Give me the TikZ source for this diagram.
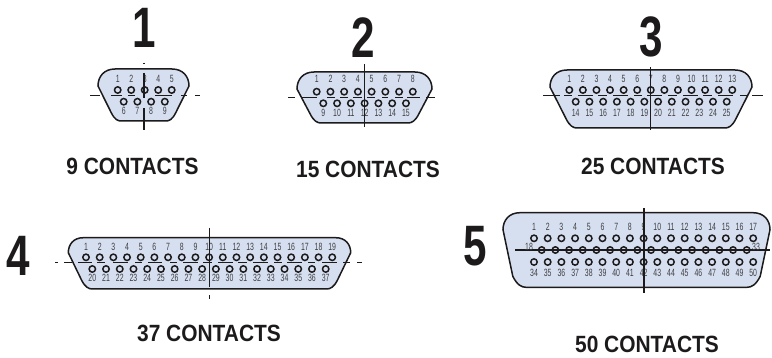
\documentclass[tikz,border=0pt]{standalone}
\usepackage{graphicx}
\usepackage{fontspec}
\setmainfont{Liberation Sans}
\definecolor{shellfill}{HTML}{D6DFF0}
\definecolor{ink}{HTML}{1C1A1B}
\definecolor{numgray}{HTML}{3E3E40}
\tikzset{
  shellline/.style={draw=ink,line width=1.5pt,fill=shellfill},
  pinring/.style={draw=ink,line width=1.5pt},
  markline/.style={draw=ink,line width=1.3pt},
  pinnum/.style={text=numgray,inner sep=0pt,font=\fontsize{10.5}{11}\selectfont},
  bignum/.style={text=ink,inner sep=0pt,font=\fontsize{57}{57}\bfseries\selectfont},
  caption/.style={text=ink,inner sep=0pt,font=\fontsize{23.5}{24}\bfseries\selectfont},
}
\newcommand{\nar}[1]{\scalebox{0.66}[1]{#1}}
\newcommand{\wid}[1]{\scalebox{0.74}[1]{#1}}
\newcommand{\capt}[1]{\scalebox{0.89}[1]{#1}}
% L R T B r dx r2
\newcommand{\shellpath}[7]{%
  \path[shellline] ({#1+#5},#3) -- ({#2-#5},#3)
    .. controls ({#2-0.35*#5},#3) and (#2,{#3+0.45*#5}) .. (#2,{#3+#5})
    -- ({#2-#6+0.2*#7},{#4-#7})
    .. controls ({#2-#6-0.2*#7},{#4-0.2*#7}) and ({#2-#6-0.6*#7},#4) .. ({#2-#6-#7},#4)
    -- ({#1+#6+#7},#4)
    .. controls ({#1+#6+0.6*#7},#4) and ({#1+#6+0.2*#7},{#4-0.2*#7}) .. ({#1+#6-0.2*#7},{#4-#7})
    -- (#1,{#3+#5})
    .. controls (#1,{#3+0.45*#5}) and ({#1+0.35*#5},#3) .. ({#1+#5},#3) -- cycle;}
% first-x step y first-number count label-y
\newcommand{\pinrow}[6]{%
  \foreach \i in {1,...,#5} {
    \pgfmathsetmacro{\px}{#1+(\i-1)*#2}
    \pgfmathtruncatemacro{\pn}{#4+\i-1}
    \draw[pinring] (\px,#3) circle (3.2);
    \node[pinnum] at (\px,#6) {\nar{\pn}};
  }}
\newcommand{\ringrow}[4]{%
  \foreach \i in {1,...,#4} {
    \pgfmathsetmacro{\px}{#1+(\i-1)*#2}
    \draw[pinring] (\px,#3) circle (3.2);
  }}
\begin{document}
\begin{tikzpicture}[x=1pt,y=-1pt]
\useasboundingbox (0,0) rectangle (772,358);
% ---------- 1
\shellpath{98}{189}{69}{121}{17}{15}{8}
\foreach \a/\b in {90/100,111/122,128/135,155/172,181/187,195/200}
  \draw[markline] (\a,95.7) -- (\b,95.7);
\pinrow{117.7}{13.5}{90}{1}{5}{79}
\pinrow{123.7}{13.7}{101.7}{6}{4}{110.7}
\draw[markline] (144,63) -- (144,64.5);
\draw[markline] (144,73) -- (144,98);
\draw[markline] (144,108) -- (144,130);
% ---------- 2
\shellpath{297}{432}{72}{123}{17}{15}{9}
\foreach \a/\b in {288/295,302/317,327/335,340/348,353/362,367/375,382/388,395/403,407/420,426/435}
  \draw[markline] (\a,97.7) -- (\b,97.7);
\pinrow{316.7}{13.73}{91.7}{1}{8}{79.3}
\pinrow{323.3}{13.78}{103.3}{9}{7}{113.3}
\draw[markline] (364.7,64) -- (364.7,127);
% ---------- 3
\shellpath{550}{752}{70}{128}{17}{18}{9}
\foreach \a/\b in {543/560,564/572,578/593,598/607,613/628,634/642,647/662,668/677,683/698,703/712,718/733,740/747,752/763}
  \draw[markline] (\a,95.7) -- (\b,95.7);
\pinrow{569.3}{13.58}{90}{1}{13}{79}
\pinrow{575.7}{13.73}{101.7}{14}{12}{113.3}
\draw[markline] (650.7,67) -- (650.7,130);
% ---------- 4
\shellpath{68.3}{350.7}{237.7}{289}{15}{15}{9}
\foreach \a/\b in {55/58,64/72,78/92,97/105,113/128,135/142,148/162,170/177,183/198,203/212,218/233,238/247,253/268,274/282,287/302,308/315,322/337,343/350,357/362}
  \draw[markline] (\a,262.7) -- (\b,262.7);
\pinrow{86}{13.68}{257.3}{1}{19}{246.7}
\pinrow{92.3}{13.73}{269}{20}{18}{278.3}
\draw[markline] (209.3,228) -- (209.3,287);
\draw[markline] (209.3,295.5) -- (209.3,299);
% ---------- 5
\shellpath{503}{770}{212.7}{287.3}{17}{12}{11}
\draw[markline] (515,250) -- (770,250);
\pinrow{534}{13.7}{238.3}{1}{17}{227}
\ringrow{541.7}{13.67}{250}{16}
\pinrow{534}{13.7}{262}{34}{17}{272.7}
\node[pinnum] at (529,246.7) {\nar{18}};
\node[pinnum] at (756,246.7) {\nar{33}};
\draw[markline] (644,208) -- (644,293);
% ---------- big numbers
\node[bignum] (n1) at (144,28) {\wid{1}};
\node[bignum] (n2) at (363,38) {\wid{2}};
\node[bignum] (n3) at (651,37) {\wid{3}};
\node[bignum] (n4) at (18,256) {\wid{4}};
\node[bignum] (n5) at (475,246) {\wid{5}};
% ---------- captions
\node[caption] (c1) at (132.5,166.5) {\capt{9 CONTACTS}};
\node[caption] (c2) at (368,169) {\capt{15 CONTACTS}};
\node[caption] (c3) at (653,166) {\capt{25 CONTACTS}};
\node[caption] (c4) at (209,333) {\capt{37 CONTACTS}};
\node[caption] (c5) at (647,344) {\capt{50 CONTACTS}};
\end{tikzpicture}
\end{document}
